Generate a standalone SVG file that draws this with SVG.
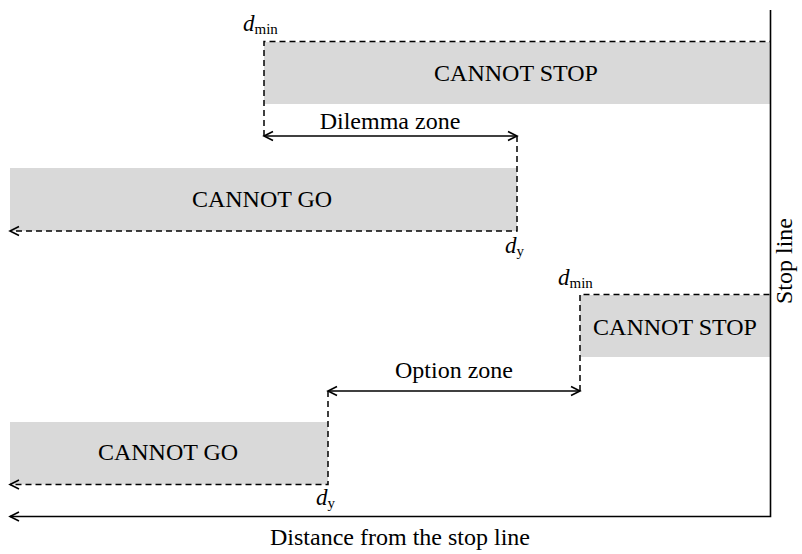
<svg xmlns="http://www.w3.org/2000/svg" width="802" height="554" viewBox="0 0 802 554">
<style>
  text { font-family: "Liberation Serif", "Times New Roman", serif; fill: #000; }
  .lbl { font-size: 24px; text-anchor: middle; }
  .d { font-size: 23px; font-style: italic; }
  .sub { font-size: 15px; font-style: normal; }
  .zone { fill: #d9d9d9; stroke: none; }
  .dash { fill: none; stroke: #000; stroke-width: 1.5; stroke-dasharray: 6 4; }
  .solid { fill: none; stroke: #000; stroke-width: 1.6; }
</style>
<defs>
  <marker id="arr" viewBox="-11 -6 13 12" refX="0" refY="0" markerWidth="13" markerHeight="12" markerUnits="userSpaceOnUse" orient="auto-start-reverse">
    <path d="M-9,-4.5 L0,0 L-9,4.5" fill="none" stroke="#000" stroke-width="1.6" stroke-dasharray="none"/>
  </marker>
</defs>
<rect width="802" height="554" fill="#fff"/>

<g id="cannot-stop-1">
  <rect class="zone" x="264" y="42" width="506" height="62"/>
  <text class="lbl" x="516" y="81">CANNOT STOP</text>
  <text class="d" x="243" y="31">d<tspan class="sub" dy="3">min</tspan></text>
</g>
<g id="cannot-go-1">
  <rect class="zone" x="10" y="168" width="507" height="63"/>
  <text class="lbl" x="262" y="207">CANNOT GO</text>
  <text class="d" x="505" y="253">d<tspan class="sub" dy="3">y</tspan></text>
</g>
<g id="dilemma-zone">
  <text class="lbl" x="390" y="129">Dilemma zone</text>
</g>
<g id="cannot-stop-2">
  <rect class="zone" x="580" y="295" width="190" height="62"/>
  <text class="lbl" x="675" y="335">CANNOT STOP</text>
  <text class="d" x="558" y="285">d<tspan class="sub" dy="3">min</tspan></text>
</g>
<g id="option-zone">
  <text class="lbl" x="454" y="378">Option zone</text>
</g>
<g id="cannot-go-2">
  <rect class="zone" x="10" y="422" width="318" height="62.5"/>
  <text class="lbl" x="168" y="460">CANNOT GO</text>
  <text class="d" x="316" y="505">d<tspan class="sub" dy="3">y</tspan></text>
</g>
<g id="stop-line">
  <text class="lbl" transform="translate(792,261) rotate(-90)" x="0" y="0">Stop line</text>
</g>
<g id="axis-label">
  <text class="lbl" x="400" y="545">Distance from the stop line</text>
</g>

<g id="connectors">
  <path class="dash" d="M264,136 V41.5 H770"/>
  <line class="solid" x1="264" y1="136" x2="517" y2="136" marker-start="url(#arr)" marker-end="url(#arr)"/>
  <path class="dash" d="M517,136 V231 H10" marker-end="url(#arr)"/>
  <path class="dash" d="M580,391 V294.5 H770"/>
  <line class="solid" x1="328" y1="391" x2="580" y2="391" marker-start="url(#arr)" marker-end="url(#arr)"/>
  <path class="dash" d="M328,391 V484.5 H10" marker-end="url(#arr)"/>
  <path class="solid" d="M770.5,10 V516.5 H10" marker-end="url(#arr)"/>
</g>
</svg>
